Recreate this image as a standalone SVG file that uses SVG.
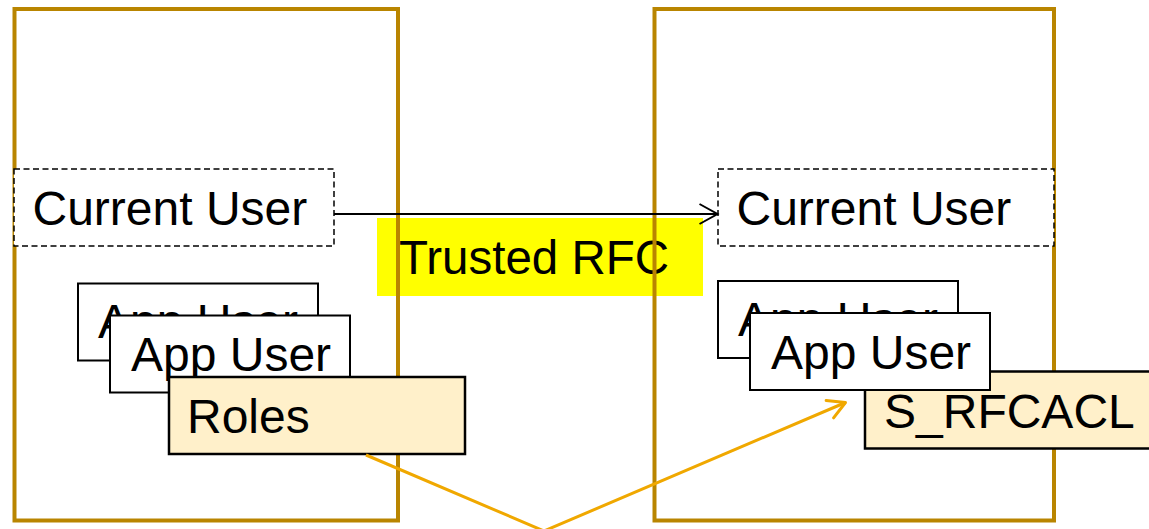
<svg xmlns="http://www.w3.org/2000/svg" width="1149" height="529" viewBox="0 0 1149 529">
<defs>
<style>
text{font-family:"Liberation Sans",Arial,sans-serif;font-size:48px;fill:#000}
.frame{fill:none;stroke:#B98500;stroke-width:4}
.dash{fill:#fff;stroke:#000;stroke-width:1.5;stroke-dasharray:6 3.5}
.box{fill:#fff;stroke:#000;stroke-width:2}
.role{fill:#FFF0CA;stroke:#000;stroke-width:2.5}
</style>
<marker id="blk" markerUnits="userSpaceOnUse" markerWidth="24" markerHeight="24" viewBox="-22 -12 24 24" refX="0" refY="0" orient="auto">
<path d="M-18,-10 L0,0 L-18,10" fill="none" stroke="#000" stroke-width="2"/>
</marker>
<marker id="org" markerUnits="userSpaceOnUse" markerWidth="24" markerHeight="24" viewBox="-22 -12 24 24" refX="0" refY="0" orient="auto">
<path d="M-17,-9.5 L0,0 L-17,9.5" fill="none" stroke="#F0A800" stroke-width="3" stroke-linecap="round" stroke-linejoin="round"/>
</marker>
</defs>
<rect width="1149" height="529" fill="#fff"/>
<g id="label-trusted-rfc">
<rect x="377" y="218" width="326" height="78" fill="#FFFF00"/>
<text x="399" y="274" style="font-size:47.5px">Trusted RFC</text>
</g>
<g id="system-left"><rect class="frame" x="14.5" y="9" width="383.5" height="511.5"/></g>
<g id="system-right"><rect class="frame" x="654.5" y="9" width="399.5" height="511.5"/></g>
<g id="current-user-left">
<rect class="dash" x="14" y="169" width="320" height="77"/>
<text x="32.5" y="225">Current User</text>
</g>
<g id="current-user-right">
<rect class="dash" x="718" y="169" width="336" height="77"/>
<text x="736.5" y="225">Current User</text>
</g>
<g id="app-user-left-back">
<rect class="box" x="78" y="283.5" width="240" height="77"/>
<text x="98" y="338">App User</text>
</g>
<g id="app-user-left">
<rect class="box" x="110" y="315.5" width="240" height="77"/>
<text x="131" y="371">App User</text>
</g>
<g id="roles">
<rect class="role" x="169" y="377" width="296" height="77"/>
<text x="187" y="433">Roles</text>
</g>
<g id="s-rfcacl">
<rect class="role" x="865" y="371.5" width="300" height="77"/>
<text x="884" y="428">S_RFCACL</text>
</g>
<g id="app-user-right-back">
<rect class="box" x="718" y="281" width="240" height="77"/>
<text x="738" y="336">App User</text>
</g>
<g id="app-user-right">
<rect class="box" x="750" y="313" width="240" height="77"/>
<text x="771" y="369">App User</text>
</g>
<g id="connectors">
<line x1="334" y1="214" x2="717.5" y2="214" stroke="#000" stroke-width="2" marker-end="url(#blk)"/>
<polyline points="366,455 544,531 845.5,402.5" fill="none" stroke="#F0A800" stroke-width="3" stroke-linejoin="round" marker-end="url(#org)"/>
</g>
</svg>
